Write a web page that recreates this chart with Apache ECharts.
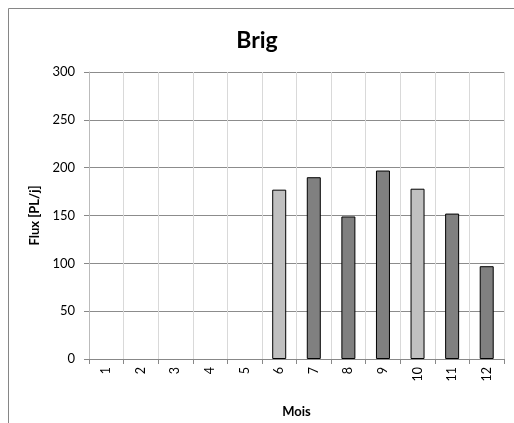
<!DOCTYPE html>
<html><head><meta charset="utf-8">
<script src="https://cdn.jsdelivr.net/npm/echarts@6/dist/echarts.min.js"></script>
<style>html,body{margin:0;padding:0;background:#fff}#c{width:514px;height:423px}</style>
</head><body><div id="c"></div>
<script>
var months = ['1','2','3','4','5','6','7','8','9','10','11','12'];
var flux = [null,null,null,null,null,177,190,149,197,178,152,97];
var lightMonths = ['6','10'];
var yTicks = {min:0, max:300, interval:50};

var chart = echarts.init(document.getElementById('c'));
var F = 'Lato, "Open Sans", sans-serif';
chart.setOption({
  animation:false,
  backgroundColor:'#fff',
  graphic:[{type:'rect', shape:{x:8.5,y:8.5,width:600,height:600}, style:{fill:'none',stroke:'#868686',lineWidth:1}, silent:true}],
  title:{text:'Brig', left:'center', top:24, textStyle:{fontFamily:F,fontWeight:'bold',fontSize:23,color:'#000'}},
  grid:{left:89, right:10, top:72, bottom:63, containLabel:false},
  xAxis:{type:'category', data:months, boundaryGap:true,
    name:'Mois', nameLocation:'middle', nameGap:46,
    nameTextStyle:{fontFamily:F,fontWeight:'bold',fontSize:13,color:'#000'},
    axisLine:{lineStyle:{color:'#888'}},
    axisTick:{show:true, alignWithLabel:false, length:5, lineStyle:{color:'#888'}},
    axisLabel:{rotate:90, fontFamily:F, fontSize:12.5, color:'#000', margin:8, interval:0},
    splitLine:{show:true, lineStyle:{color:'#d9d9d9'}}
  },
  yAxis:{type:'value', min:yTicks.min, max:yTicks.max, interval:yTicks.interval,
    name:'Flux [PL/j]', nameLocation:'middle', nameGap:45,
    nameTextStyle:{fontFamily:F,fontWeight:'bold',fontSize:13,color:'#000'},
    axisLine:{show:true, lineStyle:{color:'#bbb'}},
    axisTick:{show:true, length:5, lineStyle:{color:'#888'}},
    axisLabel:{fontFamily:F, fontSize:13, color:'#000', margin:14},
    splitLine:{show:true, lineStyle:{color:'#8c8c8c'}}
  },
  series:[{type:'bar', barWidth:14,
    data: flux.map(function(v,i){ return {value:v, itemStyle:{color: lightMonths.indexOf(months[i])>=0 ? '#c0c0c0' : '#808080'}}; }),
    itemStyle:{borderColor:'#000', borderWidth:1}
  }]
});
</script></body></html>
